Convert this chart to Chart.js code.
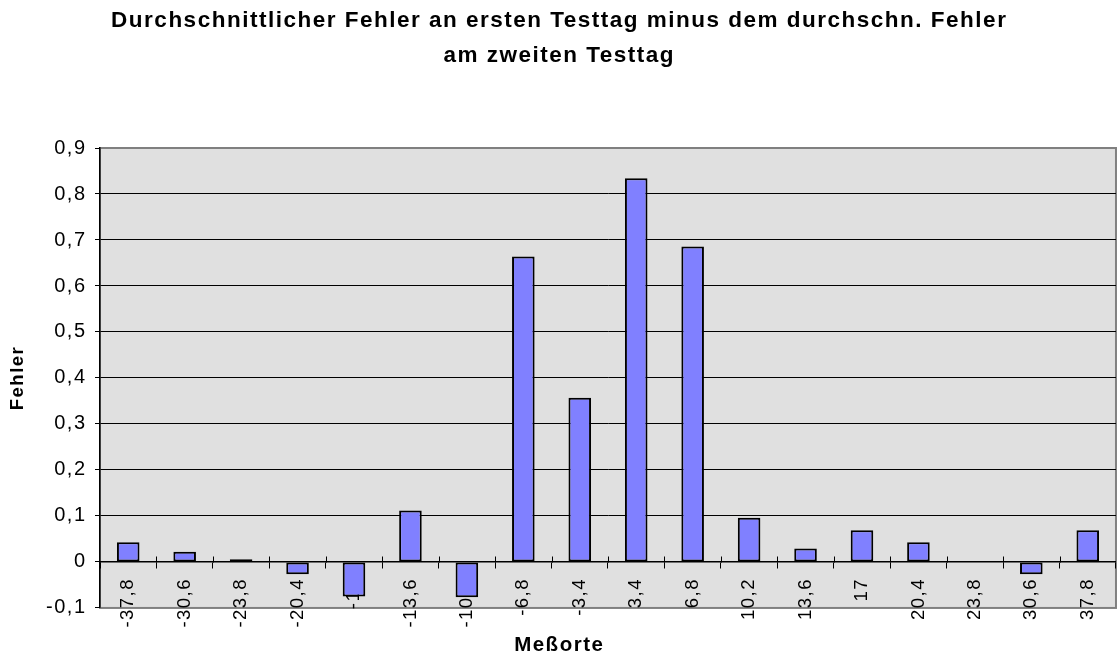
<!DOCTYPE html>
<html>
<head>
<meta charset="utf-8">
<script src="https://cdn.jsdelivr.net/npm/chart.js@4/dist/chart.umd.min.js"></script>
<style>
  html, body { margin: 0; padding: 0; background: #fff; }
  canvas { display: block; }
</style>
</head>
<body>
<canvas id="chart" width="1120" height="657"></canvas>
<script>
const messorte = ['-37,8', '-30,6', '-23,8', '-20,4', '-17', '-13,6', '-10,2', '-6,8', '-3,4',
                  '3,4', '6,8', '10,2', '13,6', '17', '20,4', '23,8', '30,6', '37,8'];
const fehler = [0.043, 0.022, 0.006, -0.027, -0.075, 0.112, -0.077, 0.664, 0.357,
                0.834, 0.686, 0.096, 0.029, 0.069, 0.043, 0, -0.027, 0.069];
const yTicks = [-0.1, 0, 0.1, 0.2, 0.3, 0.4, 0.5, 0.6, 0.7, 0.8, 0.9];

const FONT = "'Liberation Sans', Arial, sans-serif";
const SPACING = '1.5px';

// the original text is a bit stretched, so widen it a little; grey plot area
const plotStyle = {
    id: 'plotStyle',
    beforeLayout(chart) {
        chart.ctx.letterSpacing = SPACING;
    },
    beforeDraw(chart) {
        const { ctx, chartArea: a } = chart;
        ctx.letterSpacing = SPACING;
        ctx.save();
        ctx.fillStyle = '#e0e0e0';
        ctx.fillRect(a.left, a.top, a.right - a.left, a.bottom - a.top);
        ctx.strokeStyle = '#808080';
        ctx.lineWidth = 2;
        ctx.strokeRect(a.left, a.top, a.right - a.left, a.bottom - a.top);
        ctx.restore();
    },
    // excel draws the category ticks across the axis, chart.js only below it
    beforeDatasetsDraw(chart) {
        const { ctx, scales: { x, y } } = chart;
        const zero = Math.round(y.getPixelForValue(0)) + 0.5;
        const half = (x.getPixelForTick(1) - x.getPixelForTick(0)) / 2;
        ctx.save();
        ctx.strokeStyle = '#000';
        ctx.lineWidth = 1;
        ctx.beginPath();
        for (let i = 1; i < messorte.length; i++) {
            const px = Math.round(x.getPixelForTick(i) - half) + 0.5;
            ctx.moveTo(px, zero - 6);
            ctx.lineTo(px, zero);
        }
        ctx.stroke();
        ctx.restore();
    }
};

function fmt(v) {
    return String(Math.round(v * 10) / 10).replace('.', ',');
}

new Chart(document.getElementById('chart'), {
    type: 'bar',
    data: {
        labels: messorte,
        datasets: [{
            data: fehler,
            backgroundColor: '#8080ff',
            borderColor: '#000',
            borderWidth: 2,
            borderSkipped: false,
            barPercentage: 0.4,
            categoryPercentage: 1
        }]
    },
    options: {
        responsive: false,
        animation: false,
        layout: { padding: { left: 0, right: 1.5, top: 0, bottom: 0 } },
        plugins: {
            legend: { display: false },
            tooltip: { enabled: false },
            title: {
                display: true,
                text: ['Durchschnittlicher Fehler an ersten Testtag minus dem durchschn. Fehler', 'am zweiten Testtag'],
                color: '#000',
                font: { family: FONT, size: 22.5, weight: 'bold', lineHeight: 35 / 22.5 },
                padding: { top: 3, bottom: 75 }
            },
            subtitle: {
                display: true,
                position: 'bottom',
                text: 'Meßorte',
                color: '#000',
                font: { family: FONT, size: 20.5, weight: 'bold', lineHeight: 1.1 },
                padding: { top: 26.5, bottom: 0 }
            }
        },
        scales: {
            x: {
                position: { y: 0 },
                grid: {
                    offset: true,
                    drawOnChartArea: false,
                    drawTicks: true,
                    tickLength: 6,
                    color: '#000'
                },
                border: { color: '#000', width: 1.5 },
                ticks: {
                    autoSkip: false,
                    minRotation: 90,
                    maxRotation: 90,
                    padding: 10,
                    color: '#000',
                    font: { family: FONT, size: 18.5 }
                }
            },
            y: {
                min: -0.1,
                max: 0.9,
                afterFit(s) { s.width = 100; },
                afterBuildTicks(s) { s.ticks = yTicks.map(v => ({ value: v })); },
                grid: {
                    color: c => (c.tick && (c.tick.value > 0.85 || c.tick.value < -0.05)) ? 'rgba(0,0,0,0)' : '#000',
                    tickColor: '#000',
                    lineWidth: 1,
                    tickLength: 5
                },
                border: { color: '#000', width: 1.5 },
                ticks: {
                    padding: 8.5,
                    color: '#000',
                    font: { family: FONT, size: 20 },
                    callback: v => fmt(v)
                },
                title: {
                    display: true,
                    text: 'Fehler',
                    color: '#000',
                    font: { family: FONT, size: 18.5, weight: 'bold', lineHeight: 1.2 },
                    padding: { top: 7, bottom: 0 }
                }
            }
        }
    },
    plugins: [plotStyle]
});
</script>
</body>
</html>
